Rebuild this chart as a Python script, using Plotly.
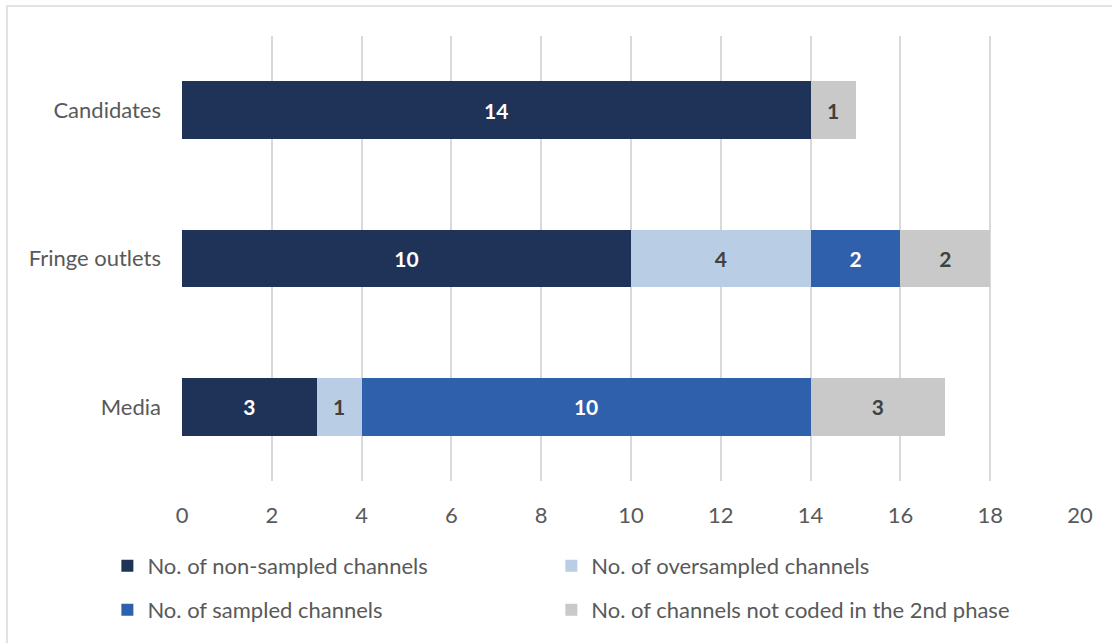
import plotly.graph_objects as go

categories = ["Candidates", "Fringe outlets", "Media"]
non_sampled = [14, 10, 3]
oversampled = [None, 4, 1]
sampled = [None, 2, 10]
not_coded = [1, 2, 3]
series_names = [
    "No. of non-sampled channels",
    "No. of oversampled channels",
    "No. of sampled channels",
    "No. of channels not coded in the 2nd phase",
]
series_values = [non_sampled, oversampled, sampled, not_coded]
colors = ["#1F3258", "#B9CDE5", "#2F60AB", "#C9C9C9"]
label_colors = ["white", "#404040", "white", "#404040"]
legend_ids = ["legend", "legend2", "legend3", "legend4"]
x_ticks = [0, 2, 4, 6, 8, 10, 12, 14, 16, 18, 20]

FONT = "Lato, Calibri, Carlito, sans-serif"
FS = 22

fig = go.Figure()
for name, vals, col, lc, lg in zip(series_names, series_values, colors, label_colors, legend_ids):
    fig.add_trace(go.Bar(
        y=categories, x=vals, name=name, orientation="h",
        marker=dict(color=col, line=dict(width=0)),
        width=0.39,
        text=[("" if v is None else str(v)) for v in vals],
        textposition="inside", insidetextanchor="middle",
        textfont=dict(family=FONT, size=21, color=lc, weight="bold"),
        legend=lg,
    ))

col_x = [-0.0831, 0.4113]
row_y = [-0.191, -0.29]


def leg(cx, ry):
    return dict(orientation="h", x=cx, xanchor="left", y=ry, yanchor="middle",
                font=dict(size=FS, color="#595959"), bgcolor="rgba(0,0,0,0)")


fig.update_layout(
    barmode="stack",
    width=1112, height=643,
    margin=dict(l=182, r=32, t=36, b=162),
    plot_bgcolor="white", paper_bgcolor="white",
    font=dict(family=FONT, size=FS, color="#595959"),
    showlegend=True,
    legend=leg(col_x[0], row_y[0]),
    legend2=leg(col_x[1], row_y[0]),
    legend3=leg(col_x[0], row_y[1]),
    legend4=leg(col_x[1], row_y[1]),
    xaxis=dict(range=[0, 20], tickvals=x_ticks, showgrid=True, gridcolor="#D9D9D9", gridwidth=1.5,
               zeroline=False, showline=False, ticks="", ticklabelstandoff=19,
               tickfont=dict(size=FS, color="#595959")),
    yaxis=dict(categoryorder="array", categoryarray=categories, autorange="reversed",
               showgrid=False, zeroline=False, showline=False, ticks="", ticklabelstandoff=20,
               tickfont=dict(size=FS, color="#595959")),
)

fig.add_shape(type="rect", xref="paper", yref="paper",
              x0=(7 - 182) / 898, x1=1.3, y0=-1.0, y1=1 + 30 / 445,
              line=dict(color="#D9D9D9", width=1.5), fillcolor="rgba(0,0,0,0)", layer="below")

fig.write_html("out.html", config={"displayModeBar": False},
               post_script="document.body.style.margin='0';document.body.style.overflow='hidden';")
